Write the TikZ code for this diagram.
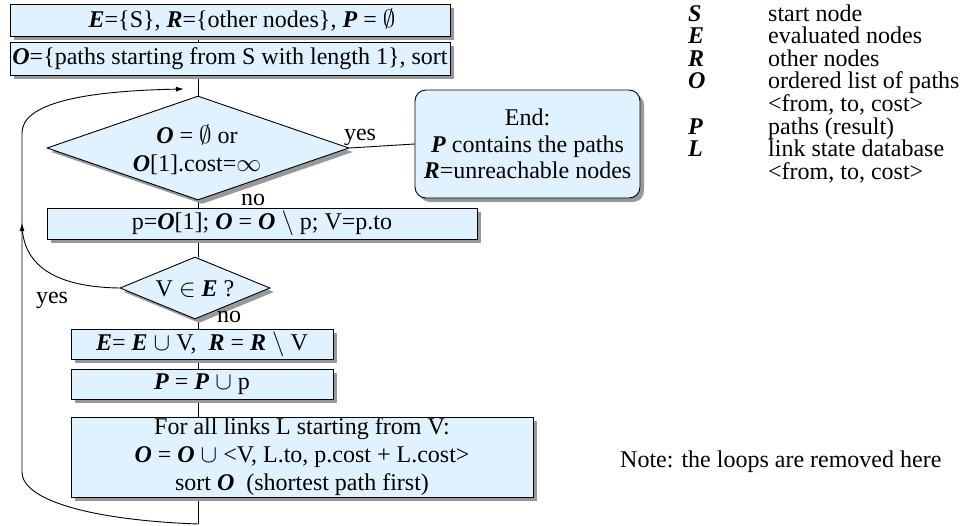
\documentclass[tikz,border=0pt]{standalone}
\usepackage{fontspec}
\setmainfont{Liberation Serif}
\usetikzlibrary{shapes.geometric,shadows,arrows.meta}
\definecolor{boxfill}{RGB}{224,242,255}
\newcommand{\bi}[1]{\textbf{\textit{#1}}}
\newcommand{\myempty}{$\emptyset$}
\pgfdeclarelayer{bg}
\pgfsetlayers{bg,main}
\begin{document}
\begin{tikzpicture}[x=1pt,y=-1pt,
  font=\fontsize{24}{28}\selectfont,
  sh/.style={drop shadow={opacity=1,fill=black!40,shadow xshift=4pt,shadow yshift=-4pt}},
  box/.style={draw=black, line width=0.9pt, fill=boxfill, sh, rectangle, inner sep=0, align=center},
  dia/.style={draw=black, line width=0.9pt, fill=boxfill, sh, diamond, inner sep=0},
  txt/.style={inner sep=0, align=center},
  lbl/.style={inner sep=0, anchor=base},
  leg/.style={inner sep=0, anchor=base west},
  conn/.style={line width=0.9pt},
  arr/.style={conn, -{Latex[length=8pt,width=5pt]}}
]
\useasboundingbox (0,0) rectangle (963,525);

% boxes
\node[box, minimum width=440pt, minimum height=32pt] (b1) at (230,20)
  {\hspace*{24pt}\bi{E}=\{S\}, \bi{R}=\{other nodes\}, \bi{P} = \myempty};
\node[box, minimum width=440pt, minimum height=33pt] (b2) at (230,58.5)
  {\bi{O}=\{paths starting from S with length 1\}, sort};
\node[dia, minimum width=302pt, minimum height=104pt] (d1) at (198,148) {};
\node[txt] (d1t) at (197,150) {\bi{O} = \myempty\ or\\\bi{O}[1].cost=$\infty$};
\node[box, rounded corners=11pt, minimum width=225pt, minimum height=108pt,
      font=\fontsize{24}{26.5}\selectfont] (end) at (527.5,144)
  {End:\\\bi{P} contains the paths\\\bi{R}=unreachable nodes};
\node[box, minimum width=430pt, minimum height=31pt] (b3) at (262,223.5)
  {p=\bi{O}[1]; \bi{O} = \bi{O} $\setminus$ p; V=p.to};
\node[dia, minimum width=150pt, minimum height=62pt] (d2) at (195,288) {};
\node[txt] (d2t) at (195,289) {V $\in$ \bi{E} ?};
\node[box, minimum width=262pt, minimum height=30pt] (b4) at (202,344)
  {\bi{E}= \bi{E} $\cup$ V,\ \ \bi{R} = \bi{R} $\setminus$ V};
\node[box, minimum width=262pt, minimum height=30pt] (b5) at (202,384)
  {\bi{P} = \bi{P} $\cup$ p};
\node[box, minimum width=462pt, minimum height=80pt] (b6) at (302,457)
  {For all links L starting from V:\\
   \bi{O} = \bi{O} $\cup$ <V, L.to, p.cost + L.cost>\\
   sort \bi{O}\ \ (shortest path first)};

% labels
\node[lbl] (yes1) at (360,140) {yes};
\node[lbl] (no1) at (253,205) {no};
\node[lbl] (yes2) at (52,303) {yes};
\node[lbl] (no2) at (229,322) {no};

% legend
\node[leg] (lS) at (688,21) {\bi{S}};  \node[leg] (dS) at (768,21) {start node};
\node[leg] (lE) at (688,43) {\bi{E}};  \node[leg] (dE) at (768,43) {evaluated nodes};
\node[leg] (lR) at (688,66) {\bi{R}};  \node[leg] (dR) at (768,66) {other nodes};
\node[leg] (lO) at (688,88) {\bi{O}};  \node[leg] (dO) at (768,88) {ordered list of paths};
\node[leg] (dO2) at (768,111) {<from, to, cost>};
\node[leg] (lP) at (688,134) {\bi{P}};  \node[leg] (dP) at (768,134) {paths (result)};
\node[leg] (lL) at (688,156) {\bi{L}};  \node[leg] (dL) at (768,156) {link state database};
\node[leg] (dL2) at (768,179) {<from, to, cost>};

\node[leg] (note) at (620,467) {Note: the loops are removed here};

% connectors
\coordinate (lb) at (198,524);
\coordinate (lc) at (22,472);
\coordinate (la) at (22,223);
\coordinate (lt) at (22,133);
\coordinate (tip) at (184,89);
\begin{pgfonlayer}{bg}
\draw[conn] (d1.north |- b1.south) -- (d1.north |- b2.north);
\draw[conn] (d1.north |- b2.south) -- (d1.north);
\draw[conn] (d1.south) -- (d1.south |- b3.north);
\draw[conn] (d1.south |- b3.south) -- (d1.south |- d2.north);
\draw[conn] (d1.south |- d2.south) -- (d1.south |- b4.north);
\draw[conn] (d1.south |- b4.south) -- (d1.south |- b5.north);
\draw[conn] (d1.south |- b5.south) -- (d1.south |- b6.north);
\draw[conn] (d1.south |- b6.south) -- (lb);
\draw[conn] (d1.east) -- (end.west);
\end{pgfonlayer}
\draw[arr] (lb) .. controls (90,520) and (22,500) .. (lc) -- (la);
\draw[arr] (la) -- (lt) .. controls (22,104) and (80,91) .. (tip);
\draw[conn] (d2.west) .. controls (50,287) and (22,262) .. (la);
\end{tikzpicture}
\end{document}
